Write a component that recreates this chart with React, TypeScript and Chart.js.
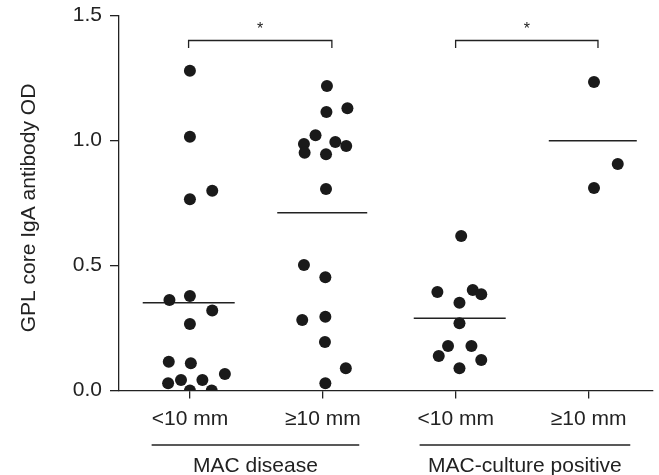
import { useEffect, useRef } from "react";
import { Chart, registerables } from "chart.js";

Chart.register(...registerables);

// ---- data ----
const categoryLabels = ["<10 mm", "\u226510 mm", "<10 mm", "\u226510 mm"];
const categoryTicks = [1, 2, 3, 4];
const groupLabels = ["MAC disease", "MAC-culture positive"];
const groupSpans = [
  [0.712, 2.274],
  [2.728, 4.313],
];
const yTitle = "GPL core IgA antibody OD";

const g1X = [1.0, 1.0, 1.0, 1.168, 0.846, 1.0, 1.168, 1.0, 0.841, 1.007, 1.263, 0.836, 0.933, 1.094, 1.0, 1.164];
const g1Y = [1.279, 1.015, 0.765, 0.799, 0.362, 0.378, 0.32, 0.266, 0.115, 0.109, 0.066, 0.029, 0.042, 0.042, 0.0, 0.0];

const g2X = [2.031, 2.027, 2.185, 1.945, 1.858, 1.863, 2.094, 2.176, 2.024, 2.024, 1.858, 2.019, 1.845, 2.019, 2.016, 2.173, 2.019];
const g2Y = [1.218, 1.114, 1.129, 1.021, 0.986, 0.951, 0.994, 0.978, 0.945, 0.806, 0.502, 0.453, 0.282, 0.295, 0.194, 0.089, 0.029];

const g3X = [3.041, 2.862, 3.128, 3.192, 3.028, 3.028, 2.942, 3.118, 2.872, 3.192, 3.028];
const g3Y = [0.618, 0.394, 0.402, 0.385, 0.351, 0.269, 0.178, 0.178, 0.138, 0.122, 0.089];

const g4X = [4.04, 4.219, 4.04];
const g4Y = [1.234, 0.906, 0.81];

const meanValues = [0.351, 0.711, 0.289, 0.999];
const meanSpans = [
  [0.645, 1.337],
  [1.657, 2.334],
  [2.684, 3.376],
  [3.7, 4.362],
];

const bracketSpans = [
  [0.99, 2.068],
  [2.999, 4.07],
];
const bracketTop = 1.4;
const bracketFoot = 1.37;
const starY = 1.454;
const starLabel = "*";

const FONT = "'Liberation Sans', Arial, Helvetica, sans-serif";
const INK = "#222222";

const zip = (xs: number[], ys: number[]) => xs.map((x, i) => ({ x, y: ys[i] }));

const annotations = {
  id: "annotations",
  afterDatasetsDraw(chart: any) {
    const { ctx, chartArea, scales } = chart;
    const xs = scales.x;
    const ys = scales.y;
    ctx.save();
    ctx.fillStyle = INK;
    ctx.strokeStyle = INK;
    // asterisks
    ctx.font = `16px ${FONT}`;
    ctx.textAlign = "center";
    ctx.textBaseline = "middle";
    bracketSpans.forEach(([a, b]) => {
      ctx.fillText(starLabel, xs.getPixelForValue((a + b) / 2), ys.getPixelForValue(starY) + 3);
    });
    // group lines + labels
    ctx.lineWidth = 1.3;
    ctx.font = `21px ${FONT}`;
    groupSpans.forEach(([a, b], i) => {
      const x1 = xs.getPixelForValue(a);
      const x2 = xs.getPixelForValue(b);
      const ly = chartArea.bottom + 54.5;
      ctx.beginPath();
      ctx.moveTo(x1, ly);
      ctx.lineTo(x2, ly);
      ctx.stroke();
      ctx.fillText(groupLabels[i], (x1 + x2) / 2, chartArea.bottom + 76);
    });
    // y title
    ctx.translate(29, 208);
    ctx.rotate(-Math.PI / 2);
    ctx.fillText(yTitle, 0, 0);
    ctx.restore();
  },
};

export default function App() {
  const ref = useRef<HTMLCanvasElement | null>(null);
  useEffect(() => {
    if (!ref.current) return;
    const pointStyle = {
      type: "scatter" as const,
      showLine: false,
      pointRadius: 6,
      pointBorderWidth: 0,
      backgroundColor: "#1a1a1a",
      borderColor: "#1a1a1a",
    };
    const lineStyle = {
      type: "line" as const,
      showLine: true,
      pointRadius: 0,
      borderWidth: 1.4,
      borderColor: INK,
      fill: false,
      clip: false as any,
    };
    const datasets: any[] = [
      { ...pointStyle, data: zip(g1X, g1Y) },
      { ...pointStyle, data: zip(g2X, g2Y) },
      { ...pointStyle, data: zip(g3X, g3Y) },
      { ...pointStyle, data: zip(g4X, g4Y) },
      ...meanValues.map((m, i) => ({
        ...lineStyle,
        data: [
          { x: meanSpans[i][0], y: m },
          { x: meanSpans[i][1], y: m },
        ],
      })),
      ...bracketSpans.map(([a, b]) => ({
        ...lineStyle,
        borderWidth: 1.3,
        data: [
          { x: a, y: bracketFoot },
          { x: a, y: bracketTop },
          { x: b, y: bracketTop },
          { x: b, y: bracketFoot },
        ],
      })),
    ];
    const chart = new Chart(ref.current, {
      type: "scatter",
      data: { datasets },
      plugins: [annotations],
      options: {
        animation: false,
        responsive: false,
        maintainAspectRatio: false,
        layout: { padding: { top: 15.5, right: 0, bottom: 0, left: 0 } },
        plugins: { legend: { display: false }, tooltip: { enabled: false } },
        scales: {
          x: {
            type: "linear",
            min: 0.4665,
            max: 4.484,
            afterBuildTicks: (scale: any) => {
              scale.ticks = categoryTicks.map((v) => ({ value: v }));
            },
            afterFit: (scale: any) => {
              scale.height = 84.5;
              scale.paddingLeft = 0;
              scale.paddingRight = 0;
            },
            ticks: {
              autoSkip: false,
              maxRotation: 0,
              padding: 8,
              color: INK,
              font: { size: 21, family: FONT },
              callback: (_v: any, i: number) => categoryLabels[i],
            },
            grid: {
              display: true,
              drawOnChartArea: false,
              drawTicks: true,
              tickLength: 8,
              color: INK,
              lineWidth: 1.3,
            },
            border: { display: true, color: INK, width: 1.3 },
          },
          y: {
            type: "linear",
            min: 0,
            max: 1.5,
            afterFit: (scale: any) => {
              scale.width = 119;
              scale.paddingTop = 0;
              scale.paddingBottom = 0;
            },
            ticks: {
              stepSize: 0.5,
              padding: 8,
              color: INK,
              font: { size: 21, family: FONT },
              callback: (v: any) => Number(v).toFixed(1),
            },
            grid: {
              display: true,
              drawOnChartArea: false,
              drawTicks: true,
              tickLength: 9,
              color: INK,
              lineWidth: 1.3,
            },
            border: { display: true, color: INK, width: 1.3 },
          },
        },
      },
    });
    return () => chart.destroy();
  }, []);
  return (
    <div style={{ position: "fixed", left: 0, top: 0, width: 659, height: 475, background: "#fff" }}>
      <canvas ref={ref} width={659} height={475} style={{ display: "block", width: 659, height: 475 }} />
    </div>
  );
}
